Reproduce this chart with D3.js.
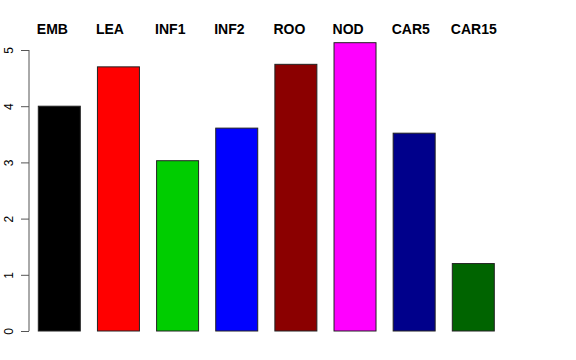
<!DOCTYPE html>
<html>
<head>
<meta charset="utf-8">
<script src="https://cdn.jsdelivr.net/npm/d3@7"></script>
<style>
  body { margin: 0; background: #fff; }
  svg { display: block; font-family: "Liberation Sans", Arial, sans-serif; }
</style>
</head>
<body>
<div id="chart"></div>
<script>
'use strict';

// data
const categories = ["EMB", "LEA", "INF1", "INF2", "ROO", "NOD", "CAR5", "CAR15"];
const values = [4.00, 4.70, 3.03, 3.61, 4.745, 5.13, 3.52, 1.20];
const barColors = ["#000000", "#FF0000", "#00CD00", "#0000FF", "#8B0000", "#FF00FF", "#00008B", "#006400"];
const yTicks = [0, 1, 2, 3, 4, 5];

var width = 576,
    height = 360;

var svg = d3.select("#chart").append("svg")
    .attr("width", width)
    .attr("height", height);

// x: bars sit between 38 and 494
var x = d3.scaleBand()
    .domain(categories)
    .range([38.3, 494.3])
    .paddingInner(0.29)
    .paddingOuter(0);

// y: 0 at 331, 5 at 50
var y = d3.scaleLinear()
    .domain([0, 5])
    .range([331, 50]);

// bars
svg.append("g")
    .selectAll("rect")
    .data(categories)
    .enter().append("rect")
    .attr("x", d => x(d))
    .attr("y", (d, i) => y(values[i]))
    .attr("width", x.bandwidth())
    .attr("height", (d, i) => y(0) - y(values[i]))
    .attr("fill", (d, i) => barColors[i])
    .attr("stroke", "#222")
    .attr("stroke-width", 1);

// category labels on top
svg.append("g")
    .selectAll("text")
    .data(categories)
    .enter().append("text")
    .attr("x", d => x(d) - 1.5)
    .attr("y", 34)
    .attr("font-size", "14px")
    .attr("font-weight", "bold")
    .attr("fill", "#000")
    .text(d => d);

// y axis, R style
var yAxis = d3.axisLeft(y)
    .tickValues(yTicks)
    .tickSize(8)
    .tickPadding(10)
    .tickFormat(d3.format("d"));

var gy = svg.append("g")
    .attr("transform", "translate(29,0)")
    .call(yAxis);

gy.select(".domain")
    .attr("d", "M0," + y(0) + "V" + y(5))
    .attr("stroke", "#555");
gy.selectAll(".tick line").attr("stroke", "#555");
gy.selectAll(".tick text")
    .attr("font-size", "12px")
    .attr("font-family", "Liberation Sans, Arial, sans-serif")
    .attr("fill", "#000")
    .attr("text-anchor", "middle")
    .attr("x", 0)
    .attr("dy", 0)
    .attr("transform", "translate(-20,0) rotate(-90)")
    .attr("dominant-baseline", "central");
</script>
</body>
</html>
